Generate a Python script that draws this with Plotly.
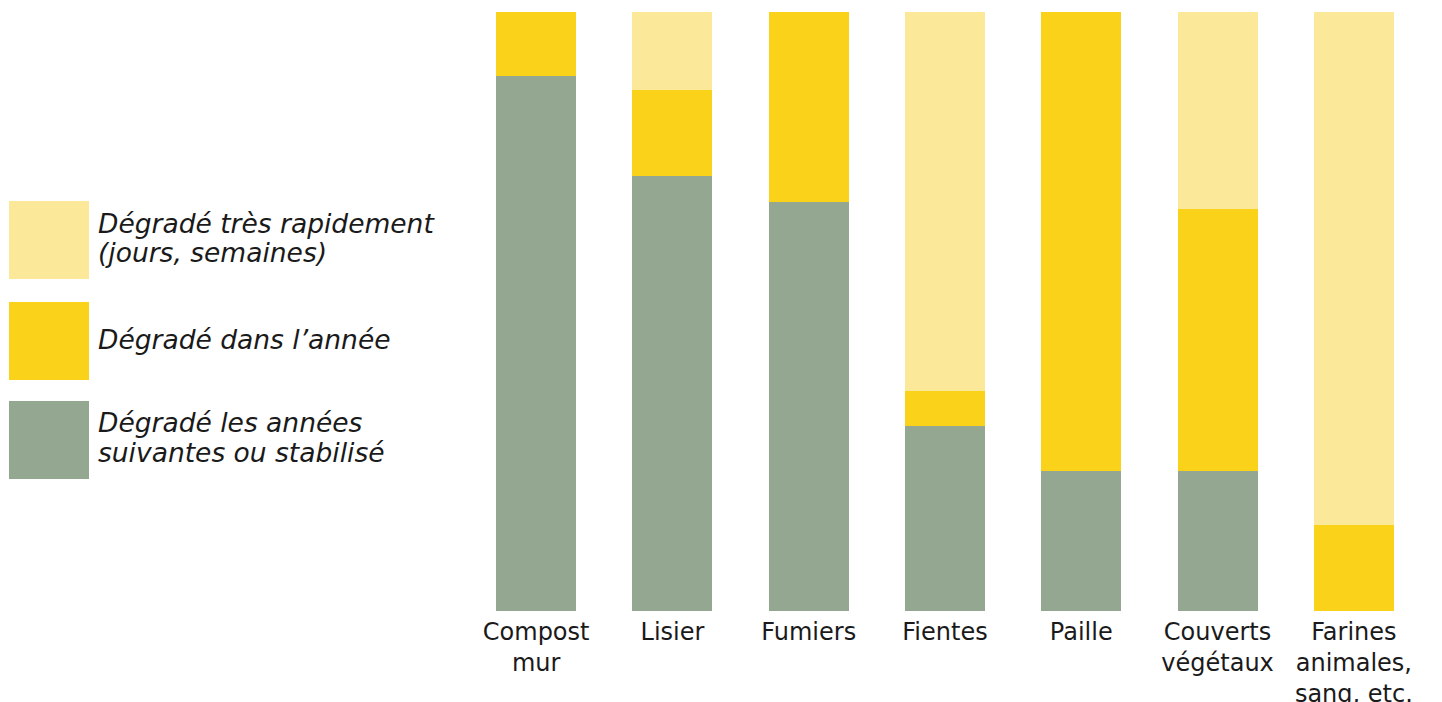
import plotly.graph_objects as go

categories = ["Compost<br>mur", "Lisier", "Fumiers", "Fientes", "Paille",
              "Couverts<br>végétaux", "Farines<br>animales,<br>sang, etc."]
stable = [89.3, 72.6, 68.3, 30.9, 23.4, 23.4, 0.0]
in_year = [10.7, 14.4, 31.7, 5.8, 76.6, 43.7, 14.4]
fast = [0.0, 13.0, 0.0, 63.3, 0.0, 32.9, 85.6]

legend_lines = [["Dégradé très rapidement", "(jours, semaines)"],
                ["Dégradé dans l’année"],
                ["Dégradé les années", "suivantes ou stabilisé"]]
colors = {"fast": "#FBE899", "year": "#FAD21A", "stable": "#94A791"}

W, H = 1442, 702
ML, MR, MT, MB = 468, 20, 12, 91
PW, PH = W - ML - MR, H - MT - MB

def px(x):
    return (x - ML) / PW

def py(y):
    return (H - MB - y) / PH

fig = go.Figure()
for vals, col in [(stable, colors["stable"]), (in_year, colors["year"]), (fast, colors["fast"])]:
    fig.add_trace(go.Bar(x=categories, y=vals, marker=dict(color=col, line=dict(width=0)),
                         width=0.587, showlegend=False, hoverinfo="skip"))

shapes = []
annotations = []
legend_items = [(legend_lines[0], colors["fast"], 201, 279, [223, 253]),
                (legend_lines[1], colors["year"], 302, 380, [339]),
                (legend_lines[2], colors["stable"], 401, 479, [423, 453])]
for lines, col, y0, y1, ys in legend_items:
    shapes.append(dict(type="rect", xref="paper", yref="paper",
                       x0=px(9), x1=px(89), y0=py(y1), y1=py(y0),
                       fillcolor=col, line=dict(width=0)))
    for line, yc in zip(lines, ys):
        annotations.append(dict(xref="paper", yref="paper", x=px(96), y=py(yc),
                                xanchor="left", yanchor="middle", align="left",
                                text=line, showarrow=False,
                                font=dict(family="DejaVu Sans", size=26.5, style="italic",
                                          color="#1a1a1a")))

fig.update_layout(
    width=W, height=H,
    margin=dict(l=ML, r=MR, t=MT, b=MB, pad=0),
    barmode="stack",
    plot_bgcolor="white", paper_bgcolor="white",
    shapes=shapes, annotations=annotations,
    xaxis=dict(type="category", range=[-0.5, 6.5], showgrid=False, zeroline=False,
               showline=False, ticks="", automargin=False, ticklabelstandoff=4,
               tickfont=dict(family="DejaVu Sans", size=24, color="#1a1a1a")),
    yaxis=dict(range=[0, 100], showgrid=False, zeroline=False, showticklabels=False,
               showline=False, automargin=False),
)

fig.write_html("out.html", config={"displayModeBar": False},
               post_script="document.body.style.margin='0';document.body.style.overflow='hidden';")
